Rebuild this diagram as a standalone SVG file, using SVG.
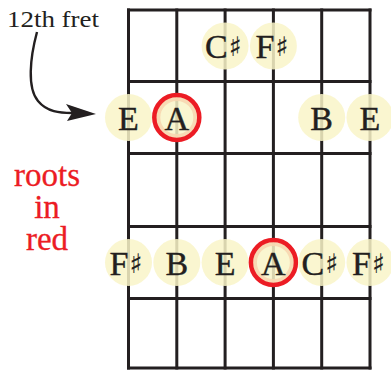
<svg xmlns="http://www.w3.org/2000/svg" width="391" height="370" viewBox="0 0 391 370">
<style>
.grid{stroke:#231f20;stroke-width:3;fill:none;stroke-linecap:square}
.dot{fill:#f9f5c8;fill-opacity:0.85}
.peach{fill:none;stroke:#f7d7b0;stroke-width:4;stroke-opacity:0.9}
.ring{fill:none;stroke:#ec1c24;stroke-width:4.5}
.note{font-family:'Liberation Serif','DejaVu Serif',serif;font-size:34px;fill:#231f20;stroke:#231f20;stroke-width:0.4;text-anchor:middle}
.sh{font-family:'DejaVu Sans',sans-serif;font-size:27px;stroke-width:0.2}
.lbl{font-family:'Liberation Serif','DejaVu Serif',serif;font-size:23px;fill:#231f20}
.red{font-family:'Liberation Serif','DejaVu Serif',serif;font-size:33px;fill:#ec1c24;stroke:#ec1c24;stroke-width:0.3;text-anchor:middle}
</style>
<rect width="391" height="370" fill="#ffffff"/>
<g id="fretboard" class="grid">
<path d="M128.5,10H370M128.5,81.5H370M128.5,153.5H370M128.5,226.5H370M128.5,298.5H370M128.5,368H370"/>
<path d="M128.5,10V368M176.8,10V368M225.1,10V368M273.4,10V368M321.7,10V368M370,10V368"/>
</g>
<g id="label-12th-fret"><text class="lbl" x="7" y="27" textLength="92" lengthAdjust="spacingAndGlyphs">12th fret</text></g>
<g id="label-roots">
<text class="red" x="47" y="186">roots</text>
<text class="red" x="47" y="218">in</text>
<text class="red" x="47" y="250">red</text>
</g>
<g id="connectors">
<path d="M37,32 C30,58 27,88 38,101 C47,112 60,113 72,113" fill="none" stroke="#231f20" stroke-width="2.4"/>
<path d="M96,114 L66,104 L72,113 L67,121 Z" fill="#231f20"/>
</g>
<g id="n-r1-Cs"><circle class="dot" cx="225.1" cy="46" r="23.5"/><text class="note" x="223.5" y="58">C<tspan class="sh" dx="1" dy="-2">♯</tspan></text></g>
<g id="n-r1-Fs"><circle class="dot" cx="273.4" cy="46" r="23.5"/><text class="note" x="272" y="58">F<tspan class="sh" dx="1" dy="-2">♯</tspan></text></g>
<g id="n-r2-E1"><circle class="dot" cx="128.5" cy="117.5" r="23.5"/><text class="note" x="128.5" y="130">E</text></g>
<g id="n-r2-A"><circle class="dot" cx="176.8" cy="117.5" r="23.5"/><circle class="peach" cx="176.8" cy="117.5" r="18.5"/><circle class="ring" cx="176.8" cy="117.5" r="22.5"/><text class="note" x="176.8" y="130">A</text></g>
<g id="n-r2-B"><circle class="dot" cx="321.7" cy="117.5" r="23.5"/><text class="note" x="321.7" y="130">B</text></g>
<g id="n-r2-E2"><circle class="dot" cx="370" cy="117.5" r="23.5"/><text class="note" x="370" y="130">E</text></g>
<g id="n-r4-Fs1"><circle class="dot" cx="128.5" cy="262.5" r="23.5"/><text class="note" x="126" y="274.5">F<tspan class="sh" dx="1" dy="-2">♯</tspan></text></g>
<g id="n-r4-B"><circle class="dot" cx="176.8" cy="262.5" r="23.5"/><text class="note" x="176.8" y="274.5">B</text></g>
<g id="n-r4-E"><circle class="dot" cx="225.1" cy="262.5" r="23.5"/><text class="note" x="225.1" y="274.5">E</text></g>
<g id="n-r4-A"><circle class="dot" cx="273.4" cy="262.5" r="23.5"/><circle class="peach" cx="273.4" cy="262.5" r="18.5"/><circle class="ring" cx="273.4" cy="262.5" r="22.5"/><text class="note" x="273.4" y="274.5">A</text></g>
<g id="n-r4-Cs"><circle class="dot" cx="321.7" cy="262.5" r="23.5"/><text class="note" x="320" y="274.5">C<tspan class="sh" dx="1" dy="-2">♯</tspan></text></g>
<g id="n-r4-Fs2"><circle class="dot" cx="370" cy="262.5" r="23.5"/><text class="note" x="368.5" y="274.5">F<tspan class="sh" dx="1" dy="-2">♯</tspan></text></g>
</svg>
